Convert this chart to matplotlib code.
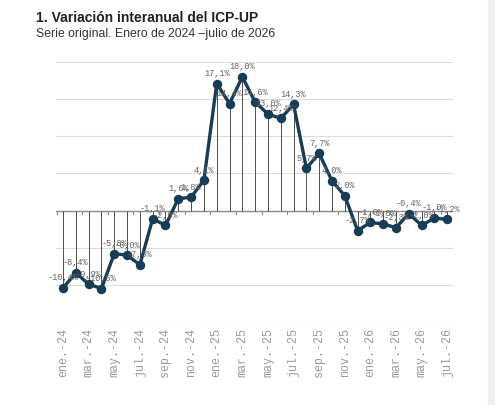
import numpy as np
import matplotlib
matplotlib.use('Agg')
import matplotlib.pyplot as plt
from matplotlib.patches import Rectangle

# datos: variacion interanual (%) ene-2024 .. jul-2026
meses = ['ene.', 'feb.', 'mar.', 'abr.', 'may.', 'jun.',
         'jul.', 'ago.', 'sep.', 'oct.', 'nov.', 'dic.']
anios = ['24', '25', '26']
valores = [-10.4, -8.4, -9.9, -10.5, -5.8, -6.0, -7.3, -1.1, -2.0, 1.6,
           1.8, 4.1, 17.1, 14.4, 18.0, 14.6, 13.0, 12.4, 14.3, 5.7,
           7.7, 4.0, 2.0, -2.7, -1.6, -1.8, -2.3, -0.4, -2.0, -1.0, -1.2]

etiquetas = []
for a in anios:
    for m in meses:
        etiquetas.append(m + '-' + a)
etiquetas = etiquetas[:len(valores)]

x = np.arange(len(valores))
color_linea = '#173d56'
gris_txt = '#666666'

fig = plt.figure(figsize=(4.95, 4.05), dpi=100)
ax = fig.add_axes([56/495, 1 - 322/405, (453 - 56)/495, (322 - 62)/405])

# rejilla
for g in [-15, -10, -5, 5, 10, 15, 20]:
    ax.axhline(g, color='#dcdcdc', lw=0.8, zorder=0)
ax.axhline(0, color='#8c8c8c', lw=1.0, zorder=1)
# marcas sobre el eje cero
for t in np.arange(-0.5, len(valores), 2):
    ax.plot([t, t], [0, -0.5], color='#8c8c8c', lw=0.8, zorder=1)

# lineas de caida
ax.vlines(x, 0, valores, color='#4d4d4d', lw=0.7, zorder=2)
ax.plot(x, valores, color=color_linea, lw=2.4, marker='o', ms=5.8, zorder=3)

for xi, v in zip(x, valores):
    txt = ('%.1f%%' % v).replace('.', ',')
    ax.annotate(txt, (xi, v), xytext=(0, 4), textcoords='offset points',
                ha='center', va='bottom', fontsize=6.2,
                family='Liberation Mono', color=gris_txt, zorder=4)

ax.set_xlim(-0.55, len(valores) - 0.55)
ax.set_ylim(-15, 20)
ax.set_yticks([])
ax.set_xticks(x[::2])
ax.set_xticklabels(etiquetas[::2], rotation=90, fontsize=8.4,
                   family='Liberation Mono', color='#9a9a9a')
ax.tick_params(axis='x', length=0, pad=4)
for s in ax.spines.values():
    s.set_visible(False)

fig.text(36/495, 1 - 18/405, '1. Variación interanual del ICP-UP',
         fontsize=10, fontweight='bold', family='Liberation Sans',
         color='#222222', va='center')
fig.text(36/495, 1 - 34/405, 'Serie original. Enero de 2024 \u2013julio de 2026',
         fontsize=8.8, family='Liberation Sans', color='#333333', va='center')

fig.patches.append(Rectangle((488/495, 0), 7/495, 1, transform=fig.transFigure,
                             color='#f0f0f0', zorder=0))

fig.savefig('out.png', dpi=100)
print('Plot done')
